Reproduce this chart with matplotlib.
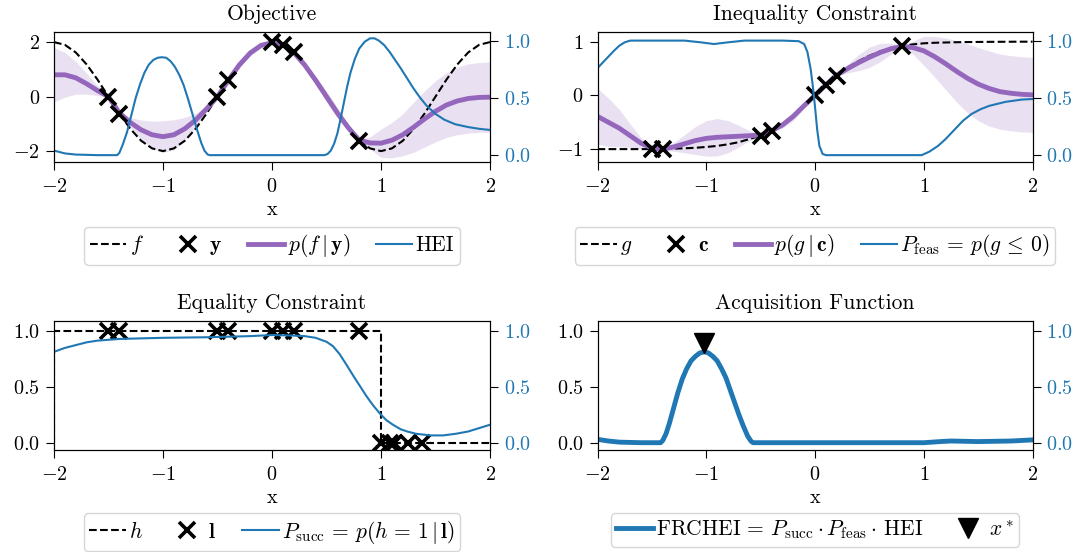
import numpy as np
import matplotlib
matplotlib.use("Agg")
import matplotlib.pyplot as plt

plt.rcParams["font.family"] = "serif"
plt.rcParams["font.serif"] = ["cmr10"]
plt.rcParams["mathtext.fontset"] = "cm"
plt.rcParams["axes.formatter.use_mathtext"] = True
plt.rcParams["font.size"] = 14.5
plt.rcParams["axes.unicode_minus"] = True
plt.rcParams["xtick.major.size"] = 6
plt.rcParams["ytick.major.size"] = 6
plt.rcParams["xtick.major.pad"] = 5.5
plt.rcParams["ytick.major.pad"] = 4

BLUE = "tab:blue"
PURPLE = "tab:purple"

# common x grid (step 0.1) for the GP panels
x_grid = np.round(np.arange(-2.0, 2.001, 0.1), 1)

# ---- Objective ----
f_true = [2.00, 1.90, 1.62, 1.18, 0.62, 0.00, -0.62, -1.18, -1.62, -1.90,
          -2.00, -1.90, -1.62, -1.18, -0.62, 0.00, 0.62, 1.18, 1.62, 1.90,
          2.00, 1.90, 1.62, 1.18, 0.62, 0.00, -0.62, -1.18, -1.62, -1.90,
          -2.00, -1.90, -1.62, -1.18, -0.62, 0.00, 0.62, 1.18, 1.62, 1.90, 2.00]
f_mean = [0.80, 0.80, 0.69, 0.47, 0.22, 0.00, -0.60, -0.95, -1.22, -1.40,
          -1.47, -1.40, -1.18, -0.86, -0.45, 0.00, 0.60, 1.16, 1.60, 1.88,
          1.98, 1.90, 1.62, 1.16, 0.60, 0.00, -0.60, -1.14, -1.60, -1.70,
          -1.71, -1.60, -1.40, -1.12, -0.82, -0.54, -0.31, -0.16, -0.07, -0.03, -0.02]
f_std = [1.00, 0.82, 0.60, 0.38, 0.18, 0.03, 0.03, 0.18, 0.36, 0.50,
         0.58, 0.55, 0.42, 0.25, 0.10, 0.03, 0.03, 0.08, 0.11, 0.08,
         0.03, 0.03, 0.03, 0.07, 0.14, 0.20, 0.20, 0.13, 0.03, 0.22,
         0.52, 0.65, 0.77, 0.92, 1.03, 1.12, 1.19, 1.24, 1.27, 1.28, 1.29]
y_obs_x = [-1.5, -1.4, -0.5, -0.4, 0.0, 0.1, 0.2, 0.8]
y_obs = [0.00, -0.62, 0.00, 0.62, 2.00, 1.90, 1.62, -1.62]

hei_x = [-2.0, -1.9, -1.8, -1.6, -1.42, -1.40, -1.37, -1.33, -1.29, -1.25,
         -1.21, -1.17, -1.13, -1.09, -1.05, -1.01, -0.97, -0.93, -0.89, -0.85,
         -0.81, -0.77, -0.73, -0.69, -0.65, -0.62, -0.59, -0.57, 0.0, 0.48,
         0.51, 0.54, 0.57, 0.60, 0.63, 0.66, 0.69, 0.72, 0.76, 0.80,
         0.85, 0.90, 0.94, 0.98, 1.03, 1.08, 1.13, 1.18, 1.24, 1.30,
         1.36, 1.42, 1.50, 1.58, 1.68, 1.80, 1.90, 2.0]
hei = [0.04, 0.015, 0.005, 0.0, 0.0, 0.02, 0.09, 0.20, 0.35, 0.50,
       0.62, 0.72, 0.79, 0.83, 0.85, 0.855, 0.85, 0.82, 0.77, 0.70,
       0.61, 0.49, 0.36, 0.23, 0.11, 0.04, 0.005, 0.0, 0.0, 0.0,
       0.01, 0.04, 0.10, 0.19, 0.32, 0.46, 0.60, 0.72, 0.84, 0.93,
       0.99, 1.02, 1.02, 1.00, 0.96, 0.90, 0.83, 0.76, 0.67, 0.58,
       0.50, 0.43, 0.36, 0.31, 0.27, 0.245, 0.23, 0.22]

# ---- Inequality constraint ----
g_true = [-1.00, -1.00, -1.00, -1.00, -1.00, -1.00, -0.995, -0.99, -0.985, -0.975,
          -0.96, -0.94, -0.91, -0.87, -0.81, -0.75, -0.66, -0.55, -0.39, -0.20,
          0.00, 0.20, 0.37, 0.52, 0.64, 0.74, 0.82, 0.88, 0.92, 0.95,
          0.97, 0.98, 0.985, 0.99, 0.993, 0.995, 0.997, 0.998, 0.999, 1.00, 1.00]
g_mean = [-0.39, -0.50, -0.61, -0.75, -0.89, -0.98, -1.00, -0.96, -0.90, -0.84,
          -0.80, -0.78, -0.77, -0.76, -0.75, -0.74, -0.66, -0.55, -0.39, -0.19,
          0.00, 0.20, 0.38, 0.50, 0.61, 0.71, 0.80, 0.87, 0.91, 0.89,
          0.83, 0.72, 0.59, 0.45, 0.32, 0.21, 0.13, 0.07, 0.04, 0.02, 0.01]
g_std = [0.52, 0.45, 0.35, 0.22, 0.10, 0.02, 0.02, 0.08, 0.17, 0.26,
         0.33, 0.35, 0.30, 0.20, 0.09, 0.02, 0.02, 0.06, 0.08, 0.05,
         0.02, 0.02, 0.02, 0.08, 0.15, 0.19, 0.17, 0.10, 0.02, 0.12,
         0.27, 0.38, 0.48, 0.57, 0.64, 0.68, 0.70, 0.70, 0.70, 0.70, 0.70]
c_obs_x = [-1.5, -1.4, -0.5, -0.4, 0.0, 0.1, 0.2, 0.8]
c_obs = [-1.00, -0.995, -0.75, -0.66, 0.00, 0.20, 0.37, 0.92]

pfeas_x = [-2.0, -1.9, -1.85, -1.8, -1.75, -1.7, -1.2, -1.05, -0.93, -0.8,
           -0.65, -0.3, -0.15, -0.1, -0.07, -0.04, -0.02, 0.0, 0.02, 0.04,
           0.07, 0.1, 0.98, 1.05, 1.13, 1.2, 1.29, 1.36, 1.44, 1.52,
           1.6, 1.75, 1.9, 2.0]
pfeas = [0.76, 0.86, 0.91, 0.955, 0.985, 1.0, 1.0, 0.985, 0.97, 0.985,
         1.0, 1.0, 0.995, 0.97, 0.90, 0.75, 0.60, 0.42, 0.22, 0.08,
         0.01, 0.0, 0.0, 0.03, 0.08, 0.14, 0.23, 0.30, 0.36, 0.40,
         0.43, 0.465, 0.485, 0.49]

# ---- Equality constraint ----
h_x = [-2.0, -2.0, 1.0, 1.0, 2.0]
h_true = [0, 1, 1, 0, 0]
l_obs_x = [-1.5, -1.4, -0.5, -0.4, 0.0, 0.1, 0.2, 0.8, 1.0, 1.08, 1.12, 1.25, 1.38]
l_obs = [1, 1, 1, 1, 1, 1, 1, 1, 0, 0, 0, 0, 0]

psucc_x = [-2.0, -1.9, -1.8, -1.7, -1.6, -1.4, -1.0, -0.6, -0.2, 0.0,
           0.2, 0.3, 0.4, 0.5, 0.56, 0.62, 0.68, 0.75, 0.81, 0.87,
           0.93, 0.99, 1.05, 1.11, 1.18, 1.24, 1.32, 1.45, 1.57, 1.69,
           1.8, 1.9, 2.0]
psucc = [0.81, 0.845, 0.87, 0.895, 0.91, 0.925, 0.935, 0.94, 0.95, 0.96,
         0.955, 0.95, 0.935, 0.90, 0.86, 0.79, 0.70, 0.59, 0.50, 0.41,
         0.33, 0.26, 0.20, 0.16, 0.12, 0.10, 0.08, 0.065, 0.065, 0.08,
         0.10, 0.13, 0.16]

# ---- Acquisition ----
acq_x = [-2.0, -1.9, -1.8, -1.6, -1.42, -1.40, -1.37, -1.34, -1.30, -1.26,
         -1.22, -1.18, -1.14, -1.10, -1.06, -1.02, -0.98, -0.94, -0.90, -0.86,
         -0.82, -0.78, -0.74, -0.70, -0.66, -0.62, -0.59, -0.57, 1.0, 1.15,
         1.25, 1.5, 1.8, 2.0]
acq = [0.03, 0.015, 0.005, 0.0, 0.0, 0.02, 0.08, 0.17, 0.31, 0.45,
       0.57, 0.66, 0.73, 0.77, 0.80, 0.81, 0.80, 0.77, 0.73, 0.66,
       0.58, 0.47, 0.36, 0.25, 0.15, 0.06, 0.015, 0.0, 0.0, 0.01,
       0.015, 0.01, 0.015, 0.025]
x_star = [-1.02]
x_star_y = [0.89]

fig = plt.figure(figsize=(10.86, 5.52), dpi=100)
ax_obj = fig.add_axes([0.0497, 0.7065, 0.4015, 0.2355])
ax_ineq = fig.add_axes([0.5502, 0.7065, 0.4006, 0.2355])
ax_eq = fig.add_axes([0.0497, 0.1848, 0.4015, 0.2337])
ax_acq = fig.add_axes([0.5502, 0.1848, 0.4006, 0.2337])

cross = dict(marker="x", color="k", ms=12, mew=2.6, ls="none")


def add_legend(ax, handles, y):
    ax.legend(handles, [h.get_label() for h in handles], loc="upper center",
              bbox_to_anchor=(0.5, y), borderaxespad=0, ncol=len(handles),
              fancybox=True, fontsize=15.5, columnspacing=1.2, handlelength=1.7,
              handletextpad=0.15, borderpad=0.25)


def blue_twin(ax, lo, hi):
    tw = ax.twinx()
    tw.set_ylim(lo, hi)
    tw.set_yticks([0.0, 0.5, 1.0])
    tw.tick_params(axis="y", labelcolor=BLUE)
    return tw


def finish(ax, title):
    ax.set_xlim(-2, 2)
    ax.set_xticks([-2, -1, 0, 1, 2])
    ax.set_xlabel("x", labelpad=4)
    ax.set_title(title, fontsize=15.5, y=1.0, pad=8.5)


# Objective
ax = ax_obj
l1, = ax.plot(x_grid, f_true, "k--", lw=1.5, label="$f$")
ax.fill_between(x_grid, np.array(f_mean) - f_std, np.array(f_mean) + f_std,
                color=PURPLE, alpha=0.2, lw=0)
l3, = ax.plot(x_grid, f_mean, color=PURPLE, lw=3.5, label=r"$p(f\,|\,\mathbf{y})$")
l2, = ax.plot(y_obs_x, y_obs, label=r"$\mathbf{y}$", **cross)
ax.set_ylim(-2.4, 2.37)
ax.set_yticks([-2, 0, 2])
finish(ax, "Objective")
tw = blue_twin(ax, -0.06, 1.075)
l4, = tw.plot(hei_x, hei, color=BLUE, lw=1.5, label="HEI")
add_legend(ax, [l1, l2, l3, l4], -0.5)

# Inequality constraint
ax = ax_ineq
l1, = ax.plot(x_grid, g_true, "k--", lw=1.5, label="$g$")
ax.fill_between(x_grid, np.array(g_mean) - g_std, np.array(g_mean) + g_std,
                color=PURPLE, alpha=0.2, lw=0)
l3, = ax.plot(x_grid, g_mean, color=PURPLE, lw=3.5, label=r"$p(g\,|\,\mathbf{c})$")
l2, = ax.plot(c_obs_x, c_obs, label=r"$\mathbf{c}$", **cross)
ax.set_ylim(-1.24, 1.18)
ax.set_yticks([-1, 0, 1])
finish(ax, "Inequality Constraint")
tw = blue_twin(ax, -0.06, 1.075)
l4, = tw.plot(pfeas_x, pfeas, color=BLUE, lw=1.5,
              label=r"$P_{\mathrm{feas}}\,=\,p(g\,\leq\,0)$")
add_legend(ax, [l1, l2, l3, l4], -0.5)

# Equality constraint
ax = ax_eq
l1, = ax.plot(h_x, h_true, "k--", lw=1.5, label="$h$")
l2, = ax.plot(l_obs_x, l_obs, label=r"$\mathbf{l}$", **cross)
ax.set_ylim(-0.065, 1.085)
ax.set_yticks([0.0, 0.5, 1.0])
finish(ax, "Equality Constraint")
tw = blue_twin(ax, -0.065, 1.085)
l4, = tw.plot(psucc_x, psucc, color=BLUE, lw=1.5,
              label=r"$P_{\mathrm{succ}}\,=\,p(h\,=\,1\,|\,\mathbf{l})$")
add_legend(ax, [l1, l2, l4], -0.49)

# Acquisition function
ax = ax_acq
l1, = ax.plot(acq_x, acq, color=BLUE, lw=3.5,
              label=r"FRCHEI$\,=\,P_{\mathrm{succ}}\cdot P_{\mathrm{feas}}\cdot\,$HEI")
l2, = ax.plot(x_star, x_star_y, marker="v", color="k", ms=14, ls="none", label="$x^*$")
ax.set_ylim(-0.065, 1.085)
ax.set_yticks([0.0, 0.5, 1.0])
finish(ax, "Acquisition Function")
blue_twin(ax, -0.065, 1.085)
add_legend(ax, [l1, l2], -0.49)

fig.savefig("out.png", dpi=100)
